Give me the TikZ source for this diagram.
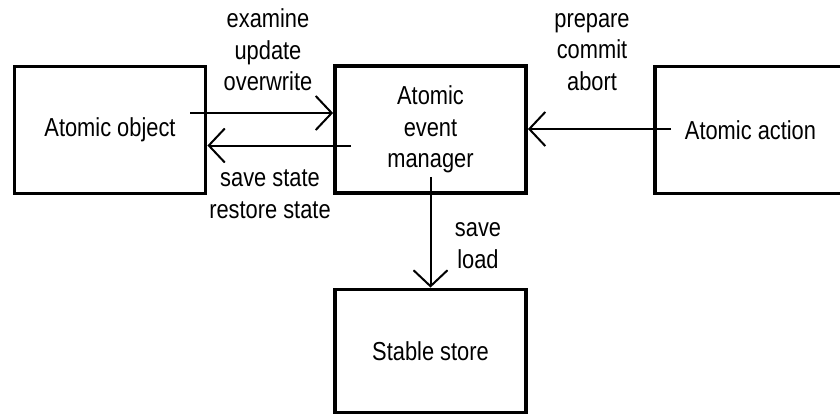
\documentclass[tikz,border=0pt]{standalone}
\usepackage{fontspec}
\setmainfont{Liberation Sans}[FakeStretch=0.84]
\usetikzlibrary{arrows.meta,calc}
\begin{document}
\begin{tikzpicture}[x=1pt,y=1pt,
  every node/.style={font=\fontsize{26}{31.5}\selectfont},
  box/.style={draw,line width=3.8pt,minimum width=191pt,minimum height=127pt,
              inner sep=0pt,align=center},
  lbl/.style={align=center,inner sep=0pt},
  conn/.style={line width=2pt,-{Straight Barb[length=16pt,width=34pt]}}]
\useasboundingbox (0,0) rectangle (840,416);
\clip (0,0) rectangle (840,416);

% components
\node[box] (obj) at (110,286) {Atomic object};
\node[box] (mgr) at (430.5,286.5) {Atomic\\event\\manager};
\node[box] (act) at (750.5,286) {Atomic action};
\node[box,minimum height=123pt] (sto) at (430.5,65) {Stable store};

% calls between components
\coordinate (s1) at ($(obj.east)+(-17,17)$);
\draw[conn] (s1) -- (s1 -| mgr.west);
\coordinate (s2) at ($(mgr.west)+(18,-16)$);
\draw[conn] (s2) -- (s2 -| obj.east);
\coordinate (s3) at ($(act.west)+(18,1)$);
\draw[conn] (s3) -- (s3 -| mgr.east);
\coordinate (s4) at ($(mgr.south)+(0,18)$);
\draw[conn] (s4) -- (sto.north);

% operation labels
\node[lbl] (l1) at (268,366) {examine\\update\\overwrite};
\node[lbl] (l2) at (592,364) {prepare\\commit\\abort};
\node[lbl] (l3) at (270,222) {save state\\restore state};
\node[lbl] (l4) at (478,170.5) {save\\load};
\end{tikzpicture}
\end{document}
